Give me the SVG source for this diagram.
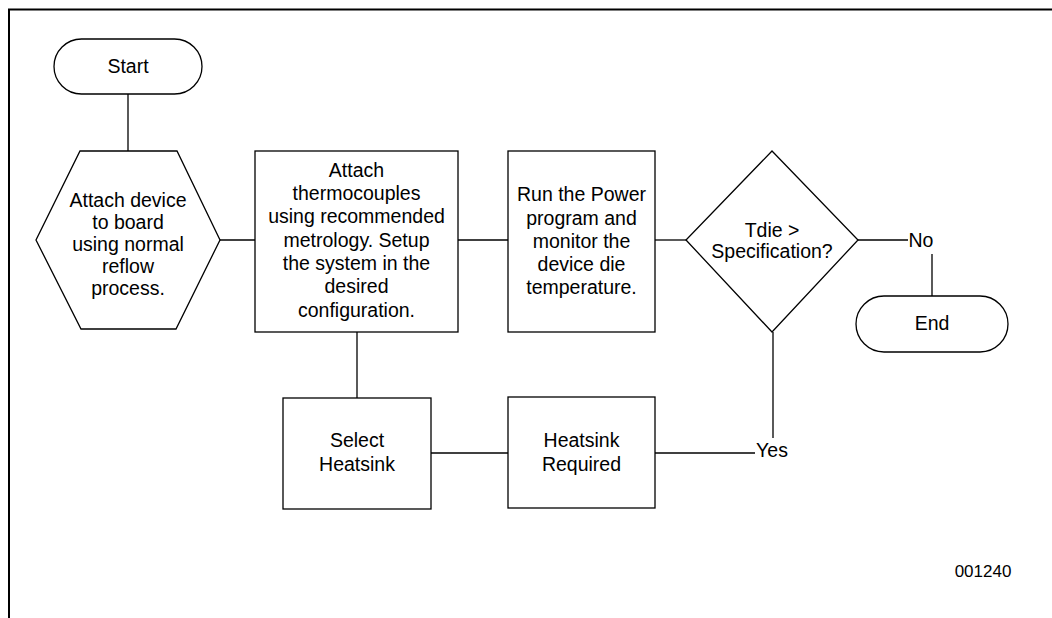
<svg xmlns="http://www.w3.org/2000/svg" width="1052" height="618" viewBox="0 0 1052 618">
<style>
.s{fill:#fff;stroke:#000;stroke-width:1.3}
.c{fill:none;stroke:#000;stroke-width:1.3}
text{font-family:"Liberation Sans",Arial,sans-serif;font-size:19.5px;fill:#000;text-anchor:middle}
</style>
<rect width="1052" height="618" fill="#fff"/>
<path d="M9,618 V9.5 H1052" fill="none" stroke="#000" stroke-width="2"/>
<g id="connectors">
<line class="c" x1="128" y1="94" x2="128" y2="151"/>
<line class="c" x1="220" y1="240" x2="255" y2="240"/>
<line class="c" x1="458" y1="240" x2="508" y2="240"/>
<line class="c" x1="655" y1="240" x2="686" y2="240"/>
<line class="c" x1="858" y1="240" x2="908" y2="240"/>
<line class="c" x1="932" y1="254" x2="932" y2="296"/>
<line class="c" x1="773" y1="332" x2="773" y2="438"/>
<line class="c" x1="357" y1="332" x2="357" y2="398"/>
<line class="c" x1="431" y1="453" x2="508" y2="453"/>
<line class="c" x1="655" y1="453" x2="755" y2="453"/>
<text x="921" y="247">No</text>
<text x="772" y="457">Yes</text>
</g>
<g id="start">
<rect class="s" x="54" y="39" width="148" height="55" rx="27.5"/>
<text x="128" y="73">Start</text>
</g>
<g id="attach-device">
<polygon class="s" points="80,151 177,151 220,240 176,329 81,329 36,240"/>
<text x="128" y="207">Attach device</text>
<text x="128" y="229">to board</text>
<text x="128" y="251">using normal</text>
<text x="128" y="273">reflow</text>
<text x="128" y="295">process.</text>
</g>
<g id="attach-thermocouples">
<rect class="s" x="255" y="151" width="203" height="181"/>
<text x="356.5" y="177">Attach</text>
<text x="356.5" y="200">thermocouples</text>
<text x="356.5" y="223">using recommended</text>
<text x="356.5" y="247">metrology. Setup</text>
<text x="356.5" y="270">the system in the</text>
<text x="356.5" y="293">desired</text>
<text x="356.5" y="317">configuration.</text>
</g>
<g id="run-power">
<rect class="s" x="508" y="151" width="147" height="181"/>
<text x="581.5" y="201">Run the Power</text>
<text x="581.5" y="225">program and</text>
<text x="581.5" y="248">monitor the</text>
<text x="581.5" y="271">device die</text>
<text x="581.5" y="294">temperature.</text>
</g>
<g id="decision">
<polygon class="s" points="772,151 858,240 772,332 686,240"/>
<text x="772" y="237">Tdie &gt;</text>
<text x="772" y="258">Specification?</text>
</g>
<g id="end">
<rect class="s" x="856" y="296" width="152" height="56" rx="28"/>
<text x="932" y="330">End</text>
</g>
<g id="select-heatsink">
<rect class="s" x="283" y="398" width="148" height="111"/>
<text x="357" y="447">Select</text>
<text x="357" y="471">Heatsink</text>
</g>
<g id="heatsink-required">
<rect class="s" x="508" y="397" width="147" height="111"/>
<text x="581.5" y="447">Heatsink</text>
<text x="581.5" y="471">Required</text>
</g>
<text x="983" y="577" style="font-size:17px">001240</text>
</svg>
